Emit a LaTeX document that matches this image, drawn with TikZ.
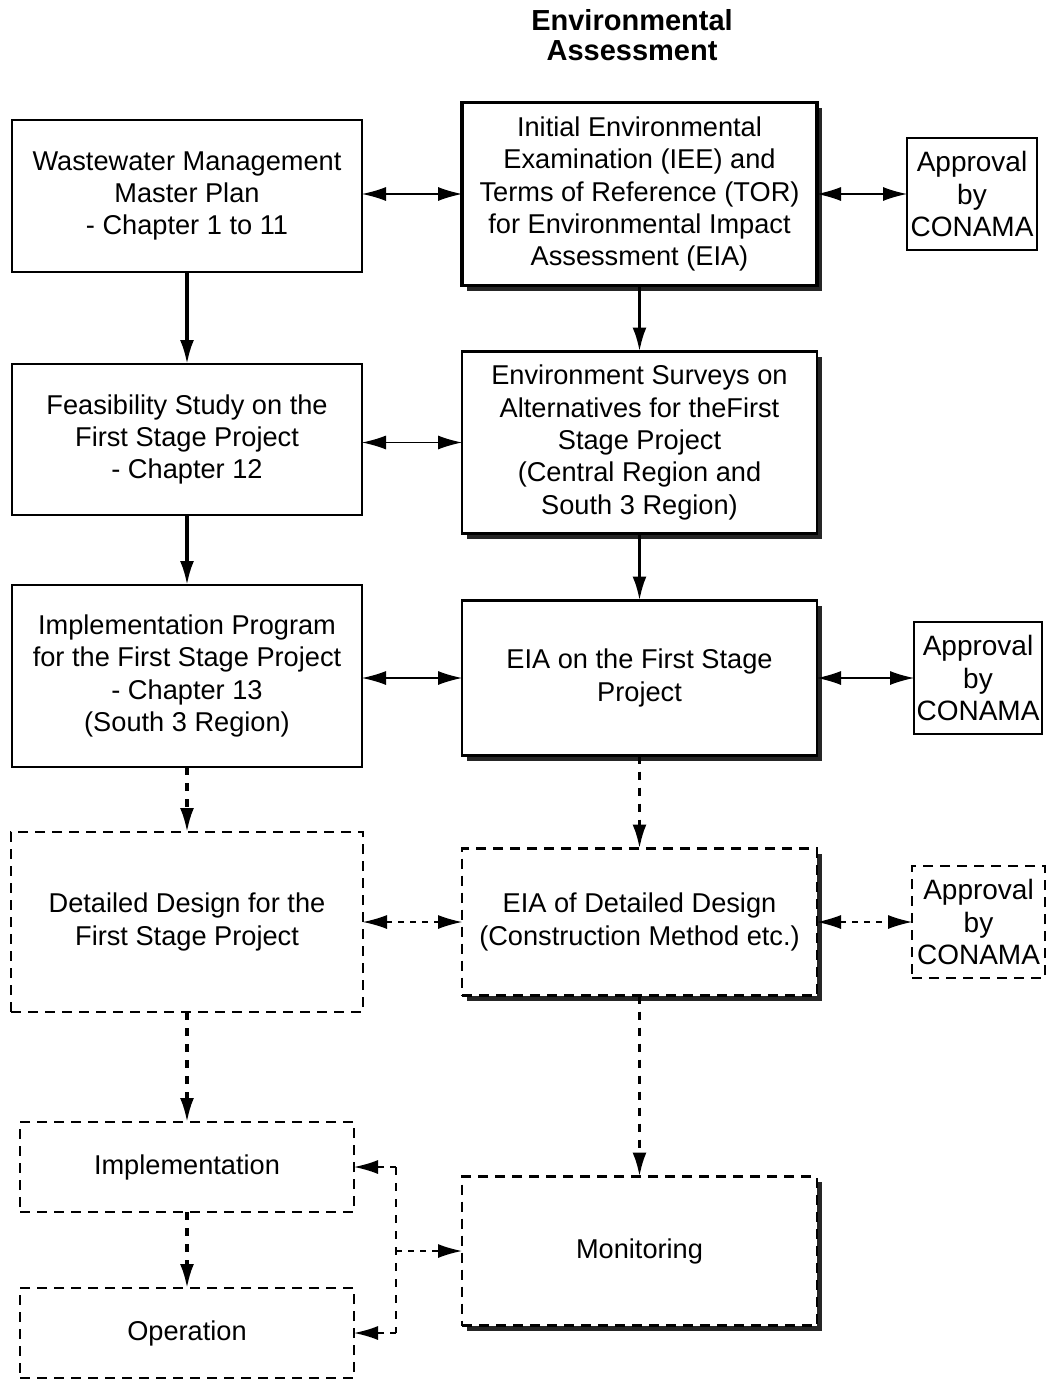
\documentclass[tikz,border=0pt]{standalone}
\usepackage{fontspec}
\setmainfont{Liberation Sans}
\usetikzlibrary{arrows.meta,positioning,shadows}

\begin{document}
\begin{tikzpicture}[
  x=0.5pt, y=-0.5pt,
  base/.style = {
    rectangle,
    draw,
    fill=white,
    line width=1.1pt,
    inner sep=0pt,
    outer sep=0pt,
    minimum width=#1,
    align=center,
    font=\fontsize{13.6}{16.2}\selectfont
  },
  box/.style = {base=175pt},
  sbox/.style = {base=177.5pt, line width=1.3pt,
    general shadow={fill=black!85, shadow xshift=2.5pt, shadow yshift=-2.5pt}},
  dbox/.style = {base=175pt, dash pattern=on 5pt off 3.5pt},
  appr/.style = {base=65pt, minimum height=56pt, font=\fontsize{14}{16.2}\selectfont},
  bigtip/.tip = {Latex[length=12pt,width=7pt]},
  arr/.style = {line width=1.6pt, -bigtip},
  darr/.style = {arr, dash pattern=on 4pt off 4pt},
  biarr/.style = {line width=0.6pt, bigtip-bigtip},
  dbiarr/.style = {biarr, dash pattern=on 3pt off 3pt},
  dline/.style = {line width=1pt, dash pattern=on 4pt off 4pt},
  sarr/.style = {line width=0.8pt, dash pattern=on 3pt off 3pt, -bigtip},
  ]
  \useasboundingbox (0,0) rectangle (1052,1381);

  \node[font=\bfseries\fontsize{14.5}{15}\selectfont, align=center] (title) at (632,35)
    {Environmental\\Assessment};

  % left column
  \node[box, minimum height=76pt] (master) at (187,196)
    {Wastewater Management\\Master Plan\\- Chapter 1 to 11};
  \node[box, minimum height=75.5pt, below=46pt of master] (feas)
    {Feasibility Study on the\\First Stage Project\\- Chapter 12};
  \node[box, minimum height=91pt, below=35pt of feas] (prog)
    {Implementation Program\\for the First Stage Project\\- Chapter 13\\(South 3 Region)};
  \node[dbox, minimum width=176pt, minimum height=90pt, below=32.5pt of prog] (design)
    {Detailed Design for the\\First Stage Project};
  \node[dbox, minimum width=167pt, minimum height=45pt, below=55pt of design] (impl)
    {Implementation};
  \node[dbox, minimum width=167pt, minimum height=45pt, below=38pt of impl] (oper)
    {Operation};

  % environmental assessment column
  \node[sbox, line width=1.6pt, minimum height=91.5pt, right=50pt of master, yshift=1pt] (iee)
    {Initial Environmental\\Examination (IEE) and\\Terms of Reference (TOR)\\for Environmental Impact\\Assessment (EIA)};
  \node[sbox, minimum height=91pt, below=33pt of iee] (surv)
    {Environment Surveys on\\Alternatives for theFirst\\Stage Project\\(Central Region and\\South 3 Region)};
  \node[sbox, minimum height=77.5pt, below=33.5pt of surv] (eia1)
    {EIA on the First Stage\\Project};
  \node[sbox, dash pattern=on 5pt off 3.5pt, minimum height=73.5pt, below=46.5pt of eia1] (eiadd)
    {EIA of Detailed Design\\(Construction Method etc.)};
  \node[sbox, dash pattern=on 5pt off 3.5pt, minimum height=74.5pt, below=90.5pt of eiadd] (monit)
    {Monitoring};

  % approvals
  \node[appr, right=45pt of iee] (appr1) {Approval\\by\\CONAMA};
  \node[appr, minimum width=64pt, right=48.5pt of eia1] (appr2) {Approval\\by\\CONAMA};
  \node[appr, minimum width=66.5pt, dash pattern=on 5pt off 3.5pt, right=47.5pt of eiadd] (appr3) {Approval\\by\\CONAMA};

  \draw[arr] (master) -- (feas);
  \draw[arr] (feas) -- (prog);
  \draw[darr] (prog) -- (design);
  \draw[darr] (design) -- (impl);
  \draw[darr] (impl) -- (oper);
  \draw[arr] (iee) -- (surv);
  \draw[arr] (surv) -- (eia1);
  \draw[darr] (eia1) -- (eiadd);
  \draw[darr] (eiadd) -- (monit);

  \draw[biarr] (master.east |- iee) -- (iee);
  \draw[biarr] (iee.east |- appr1) -- (appr1);
  \draw[biarr] (feas.east |- surv) -- (surv);
  \draw[biarr] (prog.east |- eia1) -- (eia1);
  \draw[biarr] (eia1.east |- appr2) -- (appr2);
  \draw[dbiarr] (design.east |- eiadd) -- (eiadd);
  \draw[dbiarr] (eiadd.east |- appr3) -- (appr3);

  \coordinate[right=21pt of impl.east] (brktop);
  \coordinate (brkbot) at (brktop |- oper.east);
  \coordinate (brkmid) at (brktop |- monit.west);
  \draw[dline] (brktop) -- (brkbot);
  \draw[sarr] (brktop) -- (impl);
  \draw[sarr] (brkbot) -- (oper);
  \draw[sarr] (brkmid) -- (monit);
\end{tikzpicture}
\end{document}
